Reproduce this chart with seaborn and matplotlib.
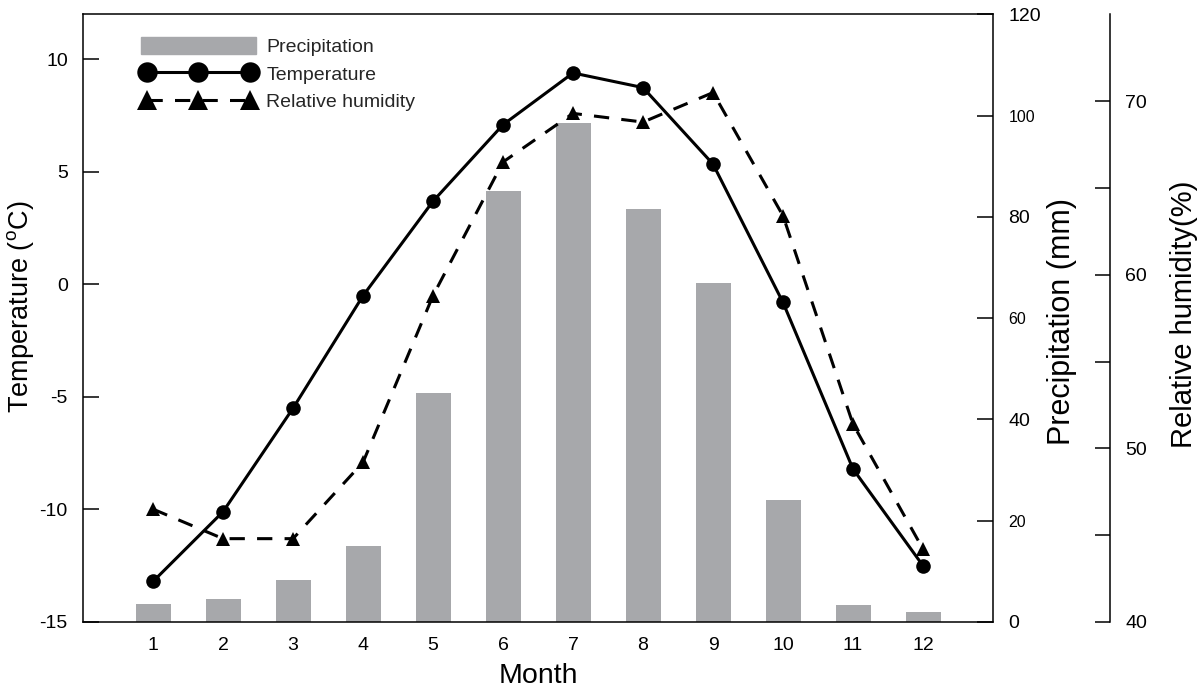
import matplotlib
matplotlib.use("Agg")
import matplotlib.pyplot as plt
import matplotlib.patches as mpatches
import seaborn as sns

# monthly climate values
months = [1, 2, 3, 4, 5, 6, 7, 8, 9, 10, 11, 12]
precip = [3.5, 4.5, 8.3, 15.0, 45.3, 85.2, 98.6, 81.5, 67.0, 24.0, 3.4, 2.0]
temp = [-13.2, -10.1, -5.5, -0.5, 3.7, 7.1, 9.4, 8.75, 5.35, -0.8, -8.2, -12.5]
humidity = [46.5, 44.8, 44.8, 49.2, 58.8, 66.5, 69.3, 68.8, 70.5, 63.4, 51.4, 44.2]

temp_ticks = [-15, -10, -5, 0, 5, 10]
precip_ticks = [0, 20, 40, 60, 80, 100, 120]
hum_ticks = [40, 50, 60, 70]
hum_minor = [45, 55, 65]

sns.set_style("white")
plt.rcParams['font.family'] = ['Liberation Sans', 'DejaVu Sans']
plt.rcParams['mathtext.fontset'] = 'custom'
plt.rcParams['mathtext.rm'] = 'Liberation Sans'
plt.rcParams['axes.linewidth'] = 1.1
plt.rcParams['axes.edgecolor'] = 'k'

bar_color = "#a7a8ab"

fig = plt.figure(figsize=(12, 6.99), dpi=100)
ax = fig.add_axes([0.0692, 0.1102, 0.7583, 0.8691])
ax_p = ax.twinx()
ax_h = ax.twinx()

# bars at the bottom, lines above
ax_p.set_zorder(0)
ax.set_zorder(1)
ax_h.set_zorder(2)
ax.patch.set_visible(False)
ax_h.patch.set_visible(False)

sns.barplot(x=months, y=precip, native_scale=True, width=0.5, color=bar_color,
            saturation=1, edgecolor='none', linewidth=0, ax=ax_p)

sns.lineplot(x=months, y=temp, ax=ax, color='k', marker='o', markersize=10.5,
             markeredgecolor='k', markeredgewidth=0, linewidth=2.2,
             label='Temperature', legend=False)
sns.lineplot(x=months, y=humidity, ax=ax_h, color='k', marker='^', markersize=10.5,
             markeredgecolor='k', markeredgewidth=0, linewidth=2.2,
             linestyle=(0, (5, 4)), label='Relative humidity', legend=False)

# temperature axis (left)
ax.set_xlim(0, 13)
ax.set_ylim(-15, 12)
ax.set_xticks(months)
ax.set_xticklabels([str(m) for m in months])
ax.set_yticks(temp_ticks)
ax.set_yticklabels([str(t) for t in temp_ticks])
ax.tick_params(axis='x', length=0, pad=11, labelsize=14, colors='k')
ax.tick_params(axis='y', direction='in', length=11.5, width=1.1, pad=11,
               labelsize=14, colors='k', left=True, right=False)
ax.set_xlabel("Month", fontsize=20.5, color='k')
ax.set_ylabel(r"Temperature ($^\mathrm{o}$C)", fontsize=19.5, color='k')
ax.xaxis.set_label_coords(0.5, -0.067)
ax.yaxis.set_label_coords(-0.052, 0.518)
for s in ['top', 'bottom', 'left']:
    ax.spines[s].set_visible(True)
ax.spines['right'].set_visible(False)

# precipitation axis (inner right)
ax_p.set_ylim(0, 120)
ax_p.set_yticks(precip_ticks)
ax_p.set_yticklabels([str(t) for t in precip_ticks])
ax_p.tick_params(axis='y', direction='in', length=11.5, width=1.1, pad=11,
                 labelsize=14, colors='k', right=True, left=False)
for lbl in ax_p.get_yticklabels():
    if lbl.get_text() in ('100', '60', '20'):
        lbl.set_fontsize(11.5)
ax_p.set_ylabel("Precipitation (mm)", fontsize=22, color='k')
ax_p.yaxis.set_label_coords(1.059, 0.494)
for s in ['top', 'bottom', 'left']:
    ax_p.spines[s].set_visible(False)
ax_p.spines['right'].set_visible(True)

# humidity axis (outer right)
ax_h.spines['right'].set_position(('axes', 1.1286))
for s in ['top', 'bottom', 'left']:
    ax_h.spines[s].set_visible(False)
ax_h.spines['right'].set_visible(True)
ax_h.set_ylim(40, 75)
ax_h.set_yticks(hum_ticks)
ax_h.set_yticks(hum_minor, minor=True)
ax_h.set_yticklabels([str(t) for t in hum_ticks])
ax_h.tick_params(axis='y', which='both', direction='in', length=11, width=1.1,
                 pad=11, labelsize=14, colors='k', right=True, left=False)
ax_h.set_ylabel("Relative humidity(%)", fontsize=21, color='k')
ax_h.yaxis.set_label_coords(1.195, 0.507)

ax.set_xlim(0, 13)

# legend
handles = [mpatches.Patch(color=bar_color), ax.lines[0], ax_h.lines[0]]
labels = ['Precipitation', 'Temperature', 'Relative humidity']
ax_h.legend(handles, labels, loc='upper left',
            bbox_to_anchor=(141 / 1200, 1 - 37 / 699), bbox_transform=fig.transFigure,
            frameon=False, fontsize=14, handlelength=5.9, handleheight=1.0,
            handletextpad=0.55, labelspacing=0.42, borderpad=0, borderaxespad=0,
            numpoints=3, markerscale=1.4)

fig.savefig("out.png", dpi=100)
